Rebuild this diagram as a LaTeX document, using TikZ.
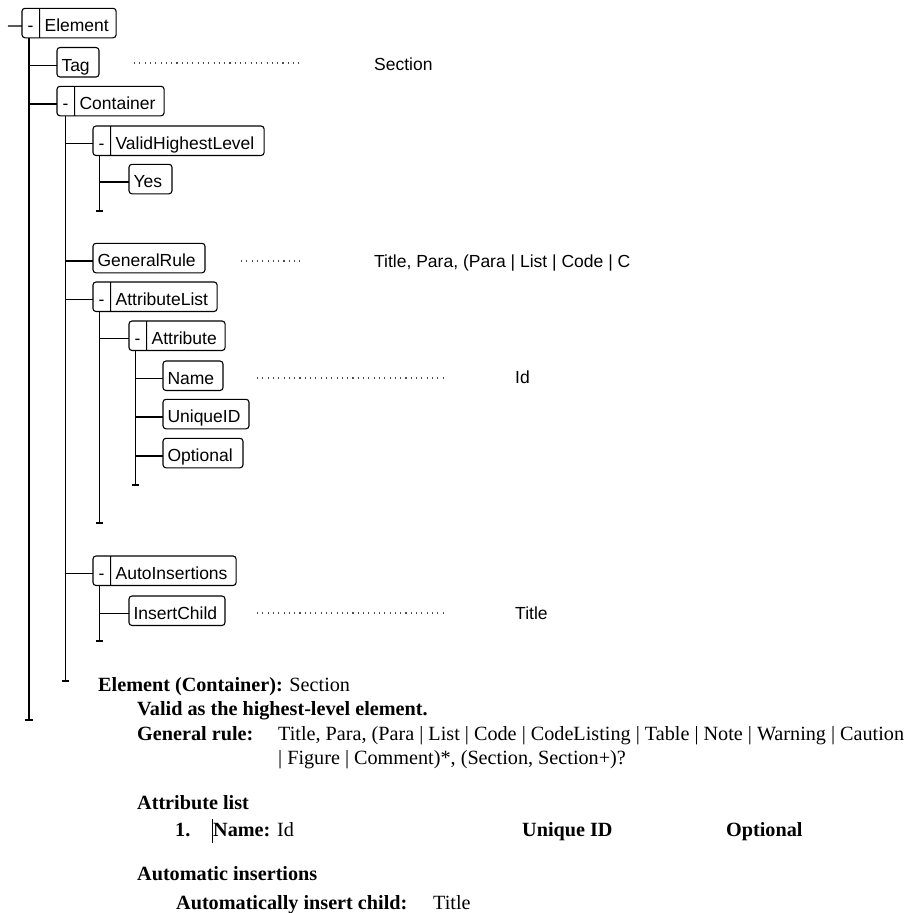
\documentclass[tikz,border=0pt]{standalone}
\usepackage{fontspec}
\setmainfont{Liberation Serif}
\newfontfamily\boxfont{Liberation Sans}
\usetikzlibrary{shapes.multipart}

% label cell of a tree box: strut of the box height, fixed width, text padded left
\newcommand\bx[2]{\rule[-6pt]{0pt}{29.5pt}\makebox[#1pt][l]{\hspace{4.5pt}#2}}
% collapse cell holding the minus sign
\newcommand\mn{\rule[-6pt]{0pt}{29.5pt}\makebox[17pt]{-}}

\tikzset{
  tbox/.style={draw, rounded corners=3pt, inner sep=0pt, outer sep=0pt, line width=1.1pt,
    anchor=north west, font=\boxfont\fontsize{17.5}{20}\selectfont},
  mbox/.style={tbox, rectangle split, rectangle split horizontal,
    rectangle split parts=2},
  branch/.style={line width=1.4pt},
  leader/.style={line width=1.1pt, gray!60!black, dash pattern=on 1.1pt off 4.2pt},
  val/.style={anchor=base west, inner sep=0pt, font=\boxfont\fontsize{17.5}{20}\selectfont},
  doc/.style={anchor=base west, inner sep=0pt, font=\fontsize{20.2}{24}\selectfont},
}

\begin{document}
\begin{tikzpicture}[x=1pt, y=-1pt]
\useasboundingbox (0,0) rectangle (903,913);

% ---- tree boxes ----
\node[mbox] (element) at (22,8.3) {\mn\nodepart{two}\bx{76}{Element}};
\node[tbox] (tag) at (57,47.5) {\bx{42}{Tag}};
\node[mbox] (container) at (57,86.3) {\mn\nodepart{two}\bx{89}{Container}};
\node[mbox] (vhl) at (93,126) {\mn\nodepart{two}\bx{153}{ValidHighestLevel}};
\node[tbox] (yes) at (129,164.3) {\bx{43}{Yes}};
\node[tbox] (genrule) at (93,243.3) {\bx{112}{GeneralRule}};
\node[mbox] (attrlist) at (93,282) {\mn\nodepart{two}\bx{106}{AttributeList}};
\node[mbox] (attr) at (129,321) {\mn\nodepart{two}\bx{78}{Attribute}};
\node[tbox] (name) at (163,361) {\bx{60}{Name}};
\node[tbox] (uniqueid) at (163,399.3) {\bx{86}{UniqueID}};
\node[tbox] (optional) at (163,438.3) {\bx{80}{Optional}};
\node[mbox] (autoins) at (93,556) {\mn\nodepart{two}\bx{125}{AutoInsertions}};
\node[tbox] (insertchild) at (129,596) {\bx{96}{InsertChild}};

% ---- ends of the branch lines ----
\coordinate (root) at (8,26);
\coordinate (elemEnd) at (29,720);
\coordinate (contEnd) at (65.5,681);
\coordinate (vhlEnd) at (99.5,211);
\coordinate (alEnd) at (99.5,523);
\coordinate (attrEnd) at (135.5,485);
\coordinate (aiEnd) at (99.5,641);

% ---- branch lines ----
\draw[branch] (root) -- ([yshift=-3pt]element.west);
\foreach \p/\e in {element/elemEnd, container/contEnd, vhl/vhlEnd,
                   attrlist/alEnd, attr/attrEnd, autoins/aiEnd}{
  \draw[branch] (\p.south -| \e) -- (\e);
  \draw[branch] ([xshift=-3.7pt]\e) -- ([xshift=3.7pt]\e);
}
\foreach \c/\e in {tag/elemEnd, container/elemEnd,
                   vhl/contEnd, genrule/contEnd, attrlist/contEnd, autoins/contEnd,
                   yes/vhlEnd, attr/alEnd,
                   name/attrEnd, uniqueid/attrEnd, optional/attrEnd,
                   insertchild/aiEnd}{
  \draw[branch] ([yshift=-3pt]\c.west -| \e) -- ([yshift=-3pt]\c.west);
}

% ---- leaders and values ----
\coordinate (tagA) at (134,63);  \coordinate (tagB) at (302,63);
\coordinate (grA) at (241,261);  \coordinate (grB) at (302,261);
\coordinate (nmA) at (257,378);  \coordinate (nmB) at (447,378);
\coordinate (icA) at (257,613);  \coordinate (icB) at (447,613);
\draw[leader] (tagA) -- (tagB);
\draw[leader] (grA) -- (grB);
\draw[leader] (nmA) -- (nmB);
\draw[leader] (icA) -- (icB);
\node[val] (tagval) at (374,70.5) {Section};
\node[val] (grval) at (374,267) {Title, Para, (Para | List | Code | C};
\node[val] (nmval) at (515,383.3) {Id};
\node[val] (icval) at (515,619.3) {Title};

% ---- description text ----
\node[doc] (d1) at (98,691.7) {\textbf{Element (Container):} Section};
\node[doc] (d2) at (137,715.7) {\textbf{Valid as the highest-level element.}};
\node[doc] (d3) at (137,740) {\textbf{General rule:}};
\node[doc] (d4) at (278,740) {Title, Para, (Para | List | Code | CodeListing | Table | Note | Warning | Caution};
\node[doc] (d5) at (278,764) {| Figure | Comment)*, (Section, Section+)?};
\node[doc] (d6) at (137,809) {\textbf{Attribute list}};
\node[doc] (d7) at (175,836.7) {\textbf{1.}};
\node[doc] (d8) at (213,836.7) {\textbf{Name:} Id};
\node[doc] (d9) at (522,836.7) {\textbf{Unique ID}};
\node[doc] (d10) at (726,836.7) {\textbf{Optional}};
\node[doc] (d11) at (137,880) {\textbf{Automatic insertions}};
\node[doc] (d12) at (176,909) {\textbf{Automatically insert child:}};
\node[doc] (d13) at (433,909) {Title};

% text caret before "Name"
\coordinate (caretT) at (212,819);
\coordinate (caretB) at (212,843);
\draw[line width=0.9pt] (caretT) -- (caretB);
\end{tikzpicture}
\end{document}
